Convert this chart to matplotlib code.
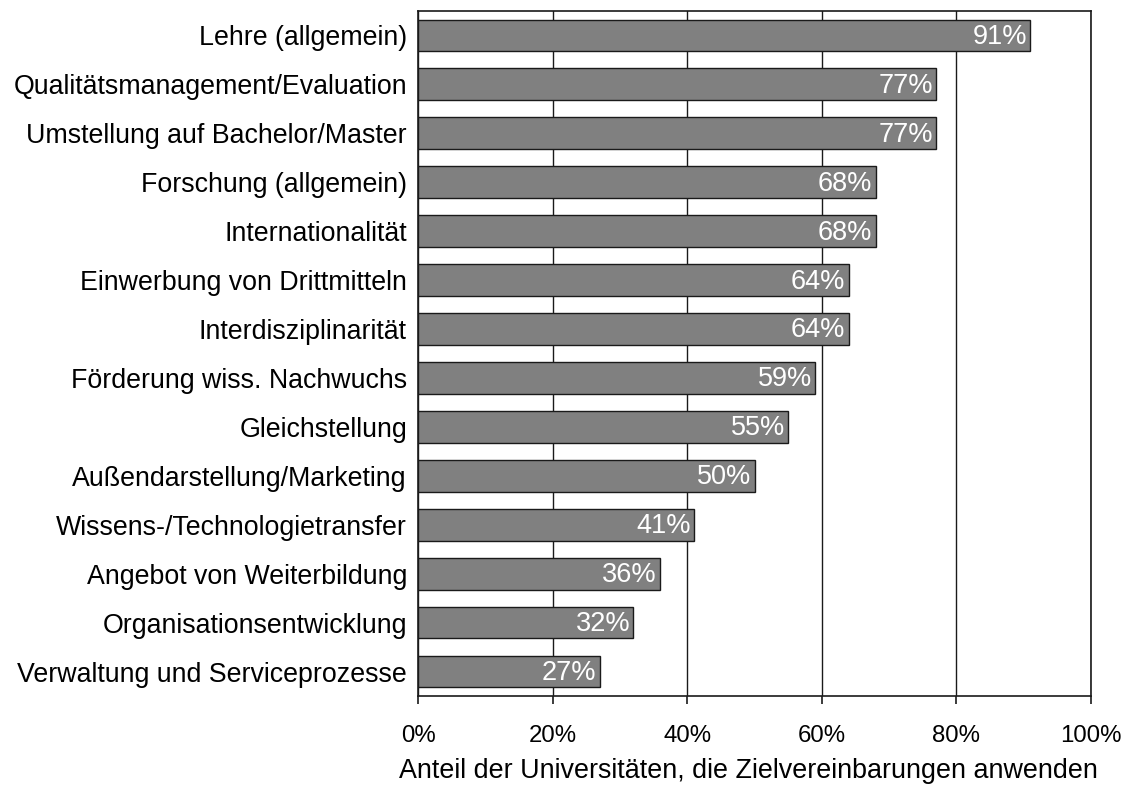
import matplotlib
matplotlib.use("Agg")
import matplotlib.pyplot as plt
from matplotlib.ticker import PercentFormatter

categories = [
    "Lehre (allgemein)",
    "Qualitätsmanagement/Evaluation",
    "Umstellung auf Bachelor/Master",
    "Forschung (allgemein)",
    "Internationalität",
    "Einwerbung von Drittmitteln",
    "Interdisziplinarität",
    "Förderung wiss. Nachwuchs",
    "Gleichstellung",
    "Außendarstellung/Marketing",
    "Wissens-/Technologietransfer",
    "Angebot von Weiterbildung",
    "Organisationsentwicklung",
    "Verwaltung und Serviceprozesse",
]
values = [91, 77, 77, 68, 68, 64, 64, 59, 55, 50, 41, 36, 32, 27]
x_ticks = [0, 20, 40, 60, 80, 100]
x_label = "Anteil der Universitäten, die Zielvereinbarungen anwenden"

plt.rcParams["font.family"] = ["Liberation Sans", "DejaVu Sans"]

fig = plt.figure(figsize=(11.32, 7.85), dpi=100)
ax = fig.add_axes([0.3693, 0.1134, 0.5945, 0.8726])

pos = list(range(len(categories)))
ax.barh(pos, values, height=0.65, color="#808080", edgecolor="#1a1a1a",
        linewidth=1.0, zorder=3)
for p, v in zip(pos, values):
    ax.text(v - 0.5, p + 0.03, f"{v}%", ha="right", va="center", color="white",
            fontsize=19.5, zorder=4)

ax.set_xlim(0, 100)
ax.set_ylim(len(categories) - 0.5, -0.5)
ax.set_yticks(pos)
ax.set_yticklabels(categories, fontsize=19.3)
ax.tick_params(axis="y", length=0, pad=8)
ax.set_xticks(x_ticks)
ax.xaxis.set_major_formatter(PercentFormatter(decimals=0))
ax.tick_params(axis="x", labelsize=17.3, length=6, width=1.2, pad=15,
               color="#1a1a1a")
ax.set_xlabel(x_label, fontsize=19.4)
ax.xaxis.set_label_coords(0.491, -0.091)
ax.grid(axis="x", color="#1a1a1a", linewidth=1.0, zorder=0)
for s in ax.spines.values():
    s.set_color("#1a1a1a")
    s.set_linewidth(1.2)

fig.savefig("out.png", dpi=100)
